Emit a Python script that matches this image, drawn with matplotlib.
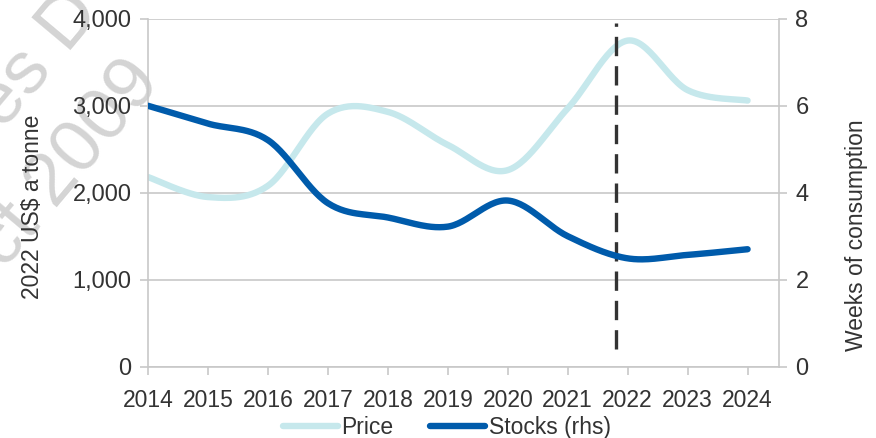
import numpy as np
import matplotlib
matplotlib.use("Agg")
import matplotlib.pyplot as plt

plt.rcParams['font.family'] = ['Liberation Sans', 'DejaVu Sans']

years = [2014, 2015, 2016, 2017, 2018, 2019, 2020, 2021, 2022, 2023, 2024]
price = [2180, 1950, 2080, 2910, 2930, 2550, 2260, 2970, 3750, 3180, 3060]   # 2022 US$ a tonne
stocks = [6.0, 5.59, 5.21, 3.76, 3.43, 3.22, 3.82, 3.0, 2.49, 2.57, 2.70]    # weeks of consumption
forecast_start = 2021.8

PRICE_COL = '#c6e8ec'
STOCK_COL = '#005bab'
GRID_COL = '#c8c8c8'
TEXT_COL = '#333333'
WM_COL = '#d4d4d4'


def smooth(x, y, n=30):
    # Excel style smoothed line (Catmull-Rom bezier)
    x = np.asarray(x, float)
    y = np.asarray(y, float)
    px = np.concatenate([[x[0]], x, [x[-1]]])
    py = np.concatenate([[y[0]], y, [y[-1]]])
    xs, ys = [], []
    t = np.linspace(0, 1, n)
    for i in range(1, len(px) - 2):
        p0 = np.array([px[i], py[i]])
        p3 = np.array([px[i + 1], py[i + 1]])
        c1 = p0 + (p3 - np.array([px[i - 1], py[i - 1]])) / 6
        c2 = p3 - (np.array([px[i + 2], py[i + 2]]) - p0) / 6
        b = ((1 - t) ** 3)[:, None] * p0 + (3 * (1 - t) ** 2 * t)[:, None] * c1 \
            + (3 * (1 - t) * t ** 2)[:, None] * c2 + (t ** 3)[:, None] * p3
        xs.append(b[:, 0])
        ys.append(b[:, 1])
    return np.concatenate(xs), np.concatenate(ys)


fig = plt.figure(figsize=(8.76, 4.38), dpi=100)
ax = fig.add_axes([0.169, 0.163, 0.72, 0.794])
ax2 = ax.twinx()
ax.set_facecolor('none')
ax2.set_facecolor('none')

# faded watermark in the top-left corner
fig.text(0.043, 0.866, 'es D', fontsize=54, color=WM_COL, rotation=50,
         ha='center', va='center', zorder=-5)
fig.text(0.078, 0.625, 'ct 2009', fontsize=54, color=WM_COL, rotation=50,
         ha='center', va='center', zorder=-5)

sx, sy = smooth(years, price)
lp, = ax.plot(sx, sy, color=PRICE_COL, lw=4.6, solid_capstyle='round', label='Price')
ax.plot([forecast_start, forecast_start], [200, 3950], color='#333333', lw=2.4,
        dashes=(5.8, 3.0), zorder=5)
tx, ty = smooth(years, stocks)
ls, = ax2.plot(tx, ty, color=STOCK_COL, lw=4.6, solid_capstyle='round', label='Stocks (rhs)')

ax.set_xlim(2014, 2024.52)
ax.set_ylim(0, 4000)
ax2.set_ylim(0, 8)
ax.set_xticks(years)
ax.set_yticks([0, 1000, 2000, 3000, 4000])
ax.set_yticklabels(['0', '1,000', '2,000', '3,000', '4,000'])
ax2.set_yticks([0, 2, 4, 6, 8])

ax.grid(axis='y', color=GRID_COL, lw=1.2)
ax.set_axisbelow(True)
for a in (ax, ax2):
    for s in a.spines.values():
        s.set_visible(False)
    a.tick_params(colors=GRID_COL, width=1.2, length=6, labelsize=17, labelcolor=TEXT_COL, pad=6)
ax.spines['left'].set_visible(True)
ax.spines['bottom'].set_visible(True)
ax2.spines['right'].set_visible(True)
for s in (ax.spines['left'], ax.spines['bottom'], ax2.spines['right']):
    s.set_color(GRID_COL)
    s.set_linewidth(1.2)
ax.tick_params(axis='x', labelsize=16.5, pad=10)

ax.set_ylabel('2022 US$ a tonne', fontsize=16.5, color=TEXT_COL)
ax.yaxis.set_label_coords(-0.165, 0.459)
ax2.set_ylabel('Weeks of consumption', fontsize=16.5, color=TEXT_COL)
ax2.yaxis.set_label_coords(1.105, 0.378)

fig.legend(handles=[lp, ls], loc='lower center', bbox_to_anchor=(0.51, -0.05), ncol=2,
           frameon=False, fontsize=16.5, handlelength=2.4, handletextpad=0.15,
           columnspacing=1.6, labelcolor=TEXT_COL)

fig.savefig('out.png', dpi=100)
